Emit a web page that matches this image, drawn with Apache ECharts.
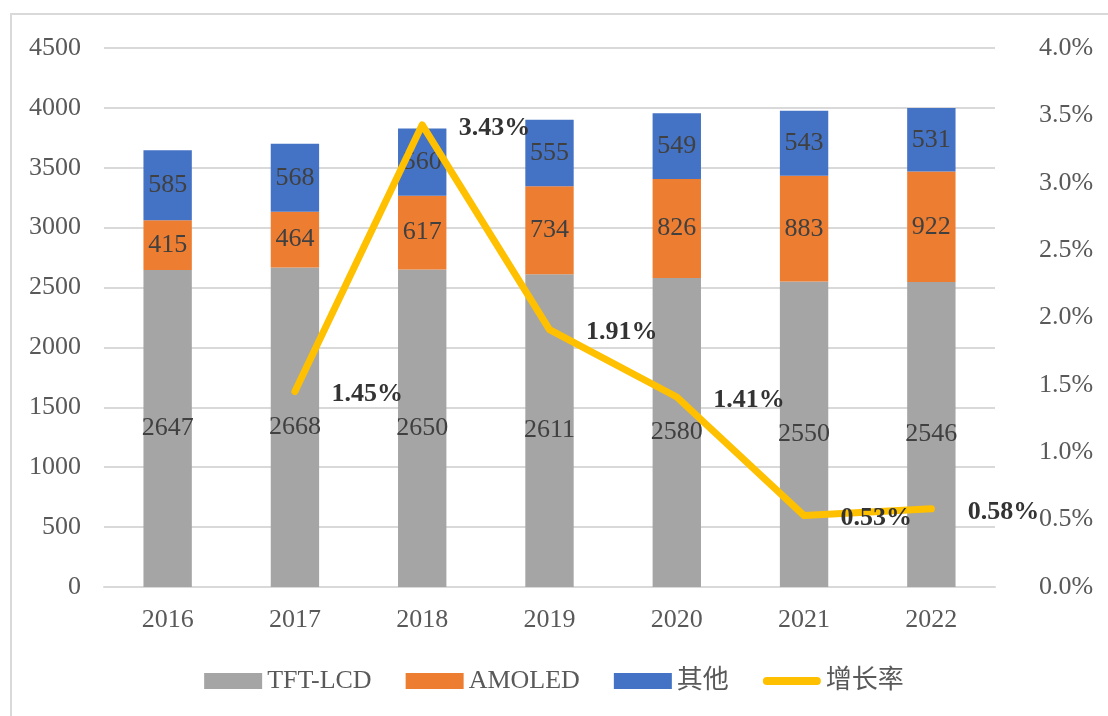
<!DOCTYPE html>
<html>
<head>
<meta charset="utf-8">
<script src="https://cdn.jsdelivr.net/npm/echarts@6/dist/echarts.min.js"></script>
<style>html,body{margin:0;padding:0;background:#fff}#c{width:1108px;height:716px}</style>
</head>
<body>
<div id="c"></div>
<script>
const years = ['2016','2017','2018','2019','2020','2021','2022'];
const tftLcd = [2647, 2668, 2650, 2611, 2580, 2550, 2546];
const amoled = [415, 464, 617, 734, 826, 883, 922];
const others = [585, 568, 560, 555, 549, 543, 531];
const growth = [null, 1.45, 3.43, 1.91, 1.41, 0.53, 0.58];

const FONT = '"Liberation Serif", "Times New Roman", "Noto Sans CJK SC", serif';
const FS = 26;
const chart = echarts.init(document.getElementById('c'));
const barLabel = {show: true, position: 'inside', color: '#404040', fontFamily: FONT, fontSize: FS};
const lineIcon = 'path://M0,0 L0,0 M0,16 L0,16 M4,4 L54,4 A4,4 0 0 1 54,12 L4,12 A4,4 0 0 1 4,4 Z';
chart.setOption({
  animation: false,
  textStyle: {fontFamily: FONT},
  graphic: [{type: 'rect', shape: {x: 11, y: 14, width: 1200, height: 800}, style: {fill: 'none', stroke: '#d9d9d9', lineWidth: 2}, silent: true}],
  grid: {left: 104, right: 113, top: 48, bottom: 129},
  legend: {
    bottom: 17, left: 'center', itemWidth: 58, itemHeight: 16, itemGap: 34,
    textStyle: {fontFamily: FONT, fontSize: FS, color: '#595959'},
    data: [{name: 'TFT-LCD', icon: 'rect'}, {name: 'AMOLED', icon: 'rect'}, {name: '其他', icon: 'rect'},
      {name: '增长率', icon: lineIcon, itemStyle: {color: '#ffc000', borderWidth: 0}}]
  },
  xAxis: {
    type: 'category', data: years,
    axisLine: {lineStyle: {color: '#d9d9d9', width: 2}},
    axisTick: {show: false},
    axisLabel: {color: '#595959', fontSize: FS, fontFamily: FONT, margin: 20}
  },
  yAxis: [{
    type: 'value', min: 0, max: 4500, interval: 500,
    axisLine: {show: false}, axisTick: {show: false},
    splitLine: {lineStyle: {color: '#d9d9d9', width: 2}},
    axisLabel: {color: '#595959', fontSize: FS, fontFamily: FONT, margin: 23, formatter: v => String(v)}
  }, {
    type: 'value', min: 0, max: 4, interval: 0.5,
    axisLine: {show: false}, axisTick: {show: false}, splitLine: {show: false},
    axisLabel: {color: '#595959', fontSize: FS, fontFamily: FONT, margin: 44, formatter: v => v.toFixed(1) + '%'}
  }],
  series: [
    {name: 'TFT-LCD', type: 'bar', stack: 's', barWidth: '38%', data: tftLcd, itemStyle: {color: '#a5a5a5'}, label: barLabel},
    {name: 'AMOLED', type: 'bar', stack: 's', data: amoled, itemStyle: {color: '#ed7d31'}, label: barLabel},
    {name: '其他', type: 'bar', stack: 's', data: others, itemStyle: {color: '#4472c4'}, label: barLabel},
    {name: '增长率', type: 'line', yAxisIndex: 1, data: growth, symbol: 'circle', symbolSize: 1, showSymbol: true, z: 5,
      lineStyle: {color: '#ffc000', width: 7, cap: 'round', join: 'round'}, itemStyle: {color: '#ffc000'},
      label: {show: true, position: 'right', distance: 36, offset: [0, 3], color: '#333', fontWeight: 'bold', fontSize: FS, fontFamily: FONT,
        formatter: p => p.value.toFixed(2) + '%'}}
  ]
});
</script>
</body>
</html>
